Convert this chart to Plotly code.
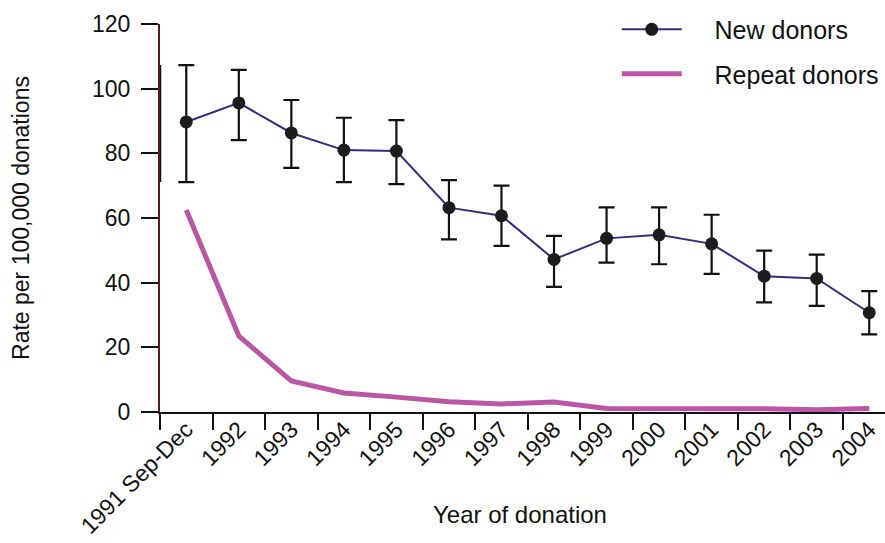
import plotly.graph_objects as go

# Year-of-donation categories
years = ["1991 Sep-Dec", "1992", "1993", "1994", "1995", "1996", "1997",
         "1998", "1999", "2000", "2001", "2002", "2003", "2004"]

# New donors: rate per 100,000 donations with 95% CI
new_rate = [89.7, 95.6, 86.3, 81.0, 80.7, 63.2, 60.7, 47.2, 53.7, 54.8, 52.0, 42.0, 41.3, 30.7]
new_upper = [107.3, 105.8, 96.5, 91.0, 90.3, 71.7, 70.0, 54.5, 63.3, 63.3, 61.0, 49.9, 48.7, 37.4]
new_lower = [71.1, 84.1, 75.5, 71.1, 70.5, 53.4, 51.4, 38.7, 46.2, 45.7, 42.7, 33.9, 32.8, 24.0]

# Repeat donors: rate per 100,000 donations
repeat_rate = [62.5, 23.5, 9.6, 5.9, 4.6, 3.2, 2.5, 3.1, 1.1, 1.1, 1.1, 1.0, 0.7, 1.1]

err_plus = [u - r for u, r in zip(new_upper, new_rate)]
err_minus = [r - l for r, l in zip(new_rate, new_lower)]

FONT = "Liberation Sans, Arial, sans-serif"
GAP = "\u00a0" * 4

fig = go.Figure()

fig.add_trace(go.Scatter(
    x=years, y=new_rate, name=GAP + "New donors", mode="lines+markers",
    line=dict(color="#2e2f7e", width=2),
    marker=dict(color="#1c1c1c", size=13),
    error_y=dict(type="data", array=err_plus, arrayminus=err_minus,
                 color="#111111", thickness=2.2, width=8),
    legendgroup="new",
))

fig.add_trace(go.Scatter(
    x=years, y=repeat_rate, name=GAP + "Repeat donors", mode="lines",
    line=dict(color="#bb55a5", width=5),
    legendgroup="repeat",
))

# Black segment on the value axis spanning the first interval
fig.add_shape(type="line", xref="x", yref="y",
              x0=-0.5, x1=-0.5, y0=new_lower[0], y1=new_upper[0],
              line=dict(color="#111111", width=2.5), layer="above")

# x-axis title placed as an annotation beneath the slanted labels
fig.add_annotation(text="Year of donation", xref="paper", yref="paper",
                   x=0.497, y=-0.265, xanchor="center", yanchor="middle",
                   showarrow=False, font=dict(size=24, color="#111111"))

fig.update_layout(
    width=885, height=543,
    margin=dict(l=160, r=0, t=24, b=131),
    paper_bgcolor="white", plot_bgcolor="white",
    font=dict(family=FONT, size=23, color="#111111"),
    showlegend=True,
    legend=dict(x=0.63, xanchor="left", y=1.045, yanchor="top",
                font=dict(size=25), itemwidth=60,
                tracegroupgap=9, traceorder="grouped",
                bgcolor="rgba(0,0,0,0)"),
    xaxis=dict(
        type="category", range=[-0.5, 13.3], automargin=False,
        showline=True, linecolor="#111111", linewidth=2,
        ticks="outside", tickson="boundaries", ticklen=16,
        tickwidth=2, tickcolor="#111111",
        tickangle=-45, tickfont=dict(size=23), ticklabelstandoff=-7,
        showgrid=False, zeroline=False,
    ),
    yaxis=dict(
        range=[0, 120], tickvals=[0, 20, 40, 60, 80, 100, 120], automargin=False,
        showline=True, linecolor="#5a1c1c", linewidth=2,
        ticks="outside", ticklen=17, tickwidth=2, tickcolor="#111111",
        tickfont=dict(size=23), ticklabelstandoff=6,
        showgrid=False, zeroline=False,
        title=dict(text="Rate per 100,000 donations", font=dict(size=23), standoff=56),
    ),
)

fig.write_html("out.html")
